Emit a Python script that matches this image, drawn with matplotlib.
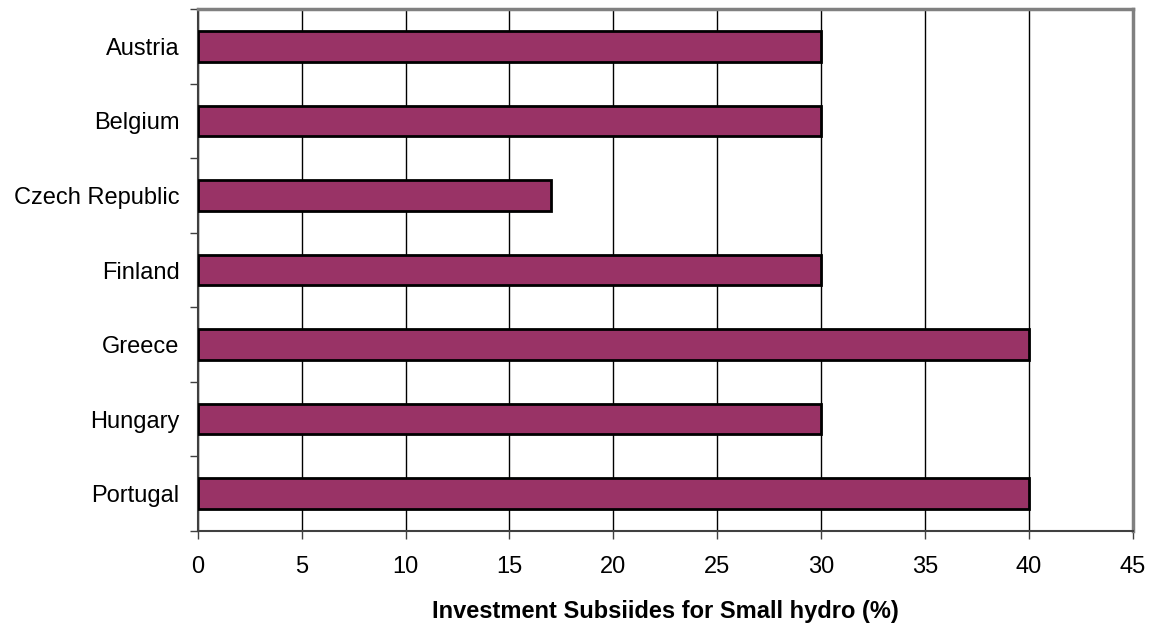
import matplotlib
matplotlib.use("Agg")
import matplotlib.pyplot as plt
import numpy as np

countries = ["Austria", "Belgium", "Czech Republic", "Finland", "Greece", "Hungary", "Portugal"]
subsidies = [30, 30, 17, 30, 40, 30, 40]
x_ticks = [0, 5, 10, 15, 20, 25, 30, 35, 40, 45]
x_label = "Investment Subsiides for Small hydro (%)"

plt.rcParams['font.family'] = ['Liberation Sans', 'DejaVu Sans']

fig = plt.figure(figsize=(11.52, 6.24), dpi=100)
ax = fig.add_axes([0.1716, 0.149, 0.9835 - 0.1716, 0.9856 - 0.149])

n = len(countries)
pos = np.arange(n)[::-1]
ax.barh(pos, subsidies, height=0.41, color="#993366", edgecolor="black", linewidth=2, zorder=3)

ax.set_xlim(0, 45)
ax.set_ylim(-0.5, n - 0.5)
ax.set_xticks(x_ticks)
ax.set_xticklabels([str(t) for t in x_ticks], fontsize=17)
ax.set_yticks(pos)
ax.set_yticklabels(countries, fontsize=17)
ax.set_yticks(np.arange(n + 1) - 0.5, minor=True)
ax.tick_params(axis='y', which='major', length=0, pad=13)
ax.tick_params(axis='y', which='minor', length=6, width=1, direction='out', color='#404040')
ax.tick_params(axis='x', which='major', length=6, width=1, direction='out', color='#404040', pad=12)

ax.grid(axis='x', color='black', linewidth=1, zorder=0)
for s in ['top', 'right']:
    ax.spines[s].set_color('#808080')
    ax.spines[s].set_linewidth(2.5)
for s in ['left', 'bottom']:
    ax.spines[s].set_color('#404040')
    ax.spines[s].set_linewidth(1.5)

ax.set_xlabel(x_label, fontsize=17, fontweight='bold', labelpad=16)

fig.savefig("out.png", dpi=100)
